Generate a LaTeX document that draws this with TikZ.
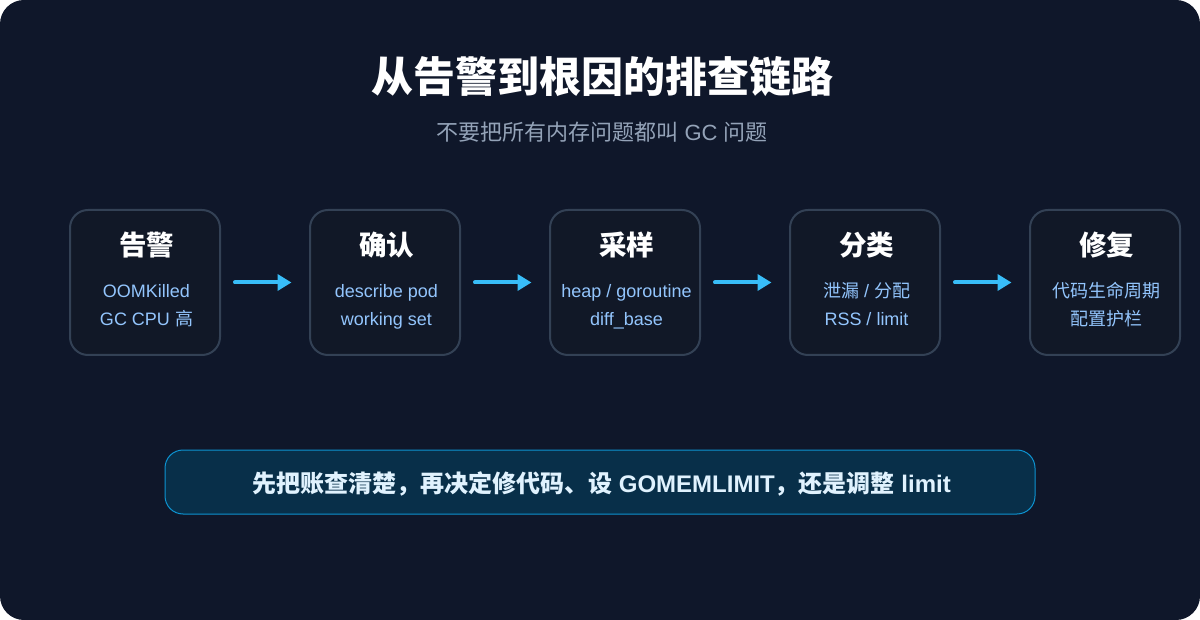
\documentclass[tikz,border=0pt]{standalone}
\usepackage{fontspec}
\setmainfont{Liberation Sans}
\newfontfamily\cjk{Noto Sans CJK SC}
\usetikzlibrary{arrows.meta,calc}
\definecolor{bgc}{HTML}{0F172A}
\definecolor{boxc}{HTML}{111827}
\definecolor{boxline}{HTML}{334155}
\definecolor{arrowc}{HTML}{38BDF8}
\definecolor{subc}{HTML}{94A3B8}
\definecolor{bodyc}{HTML}{93C5FD}
\definecolor{notec}{HTML}{082F49}
\definecolor{noteline}{HTML}{0EA5E9}
\definecolor{notetext}{HTML}{E0F2FE}
\newcommand{\fs}[1]{\fontsize{#1}{#1}\selectfont}
\newcommand{\cj}[1]{{\cjk #1}}
\newcommand{\cb}[1]{{\cjk\bfseries #1}}
\tikzset{
  x=1pt,y=-1pt,
  stagebox/.style={draw=boxline,line width=2pt,fill=boxc,rounded corners=18pt,minimum width=150pt,minimum height=145pt,inner sep=0pt},
  stagehead/.style={text=white,font=\fs{27.5}\cjk\bfseries,inner sep=0pt,anchor=center},
  stagebody/.style={text=bodyc,font=\fs{18},inner sep=0pt,anchor=base},
  flow/.style={draw=arrowc,line width=4pt,line cap=round,-{Triangle[length=14pt,width=16pt]},shorten <=14pt,shorten >=17.5pt},
}
\begin{document}
\begin{tikzpicture}
\useasboundingbox (0,0) rectangle (1200,620);
\fill[bgc,rounded corners=24pt] (0,0) rectangle (1200,620);
\node[text=white,font=\fs{42}\cjk\bfseries,inner sep=0pt] (title) at (602,77) {从告警到根因的排查链路};
\node[text=subc,font=\fs{22},inner sep=0pt] (subtitle) at (602,132.5) {\cj{不要把所有内存问题都叫} GC \cj{问题}};
\foreach \nm/\cx/\hd/\la/\lb in {
 a/145/告警/{OOMKilled}/{GC CPU \cj{高}},
 b/385/确认/{describe pod}/{working set},
 c/625/采样/{heap / goroutine}/{diff\_base},
 d/865/分类/{\cj{泄漏} / \cj{分配}}/{RSS / limit},
 e/1105/修复/{\cj{代码生命周期}}/{\cj{配置护栏}}}{
  \node[stagebox] (\nm) at (\cx,282.5) {};
  \node[stagehead] (\nm h) at (\cx+1.5,245) {\hd};
  \node[stagebody] (\nm 1) at (\cx+1.5,298) {\la};
  \node[stagebody] (\nm 2) at (\cx+1.5,326) {\lb};
}
\draw[flow] (a) -- (b);
\draw[flow] (b) -- (c);
\draw[flow] (c) -- (d);
\draw[flow] (d) -- (e);
\node[draw=noteline!85!notec,line width=1pt,fill=notec,rounded corners=18pt,minimum width=870pt,minimum height=64pt,inner sep=0pt] (note) at (600,482) {};
\node[text=notetext,font=\fs{24}\bfseries,inner sep=0pt] (notetxt) at (601.5,483.5) {\cb{先把账查清楚，再决定修代码、设} GOMEMLIMIT\cb{，还是调整} limit};
\end{tikzpicture}
\end{document}
